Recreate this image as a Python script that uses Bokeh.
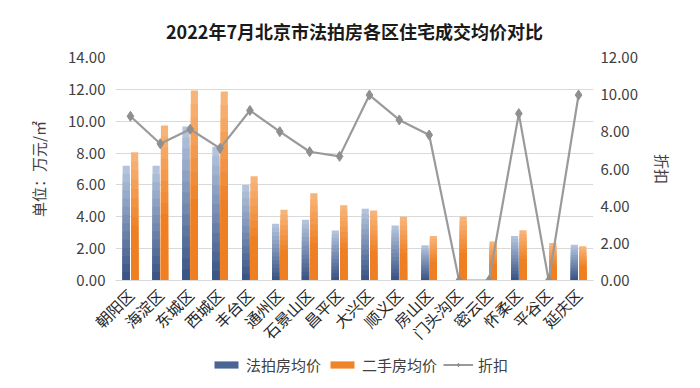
from bokeh.plotting import figure
from bokeh.layouts import column
from bokeh.models import (ColumnDataSource, FactorRange, Range1d, LinearAxis,
                          NumeralTickFormatter, Legend, LegendItem, SingleIntervalTicker)
from bokeh.transform import dodge
from bokeh.embed import file_html
from bokeh.resources import INLINE
import math

districts = ["朝阳区", "海淀区", "东城区", "西城区", "丰台区", "通州区", "石景山区", "昌平区",
             "大兴区", "顺义区", "房山区", "门头沟区", "密云区", "怀柔区", "平谷区", "延庆区"]
auction_price = [7.2, 7.2, 9.67, 8.4, 6.0, 3.56, 3.81, 3.14, 4.5, 3.45, 2.22, 0.0, 0.0, 2.8, 0.0, 2.25]
resale_price = [8.05, 9.73, 11.93, 11.86, 6.55, 4.44, 5.48, 4.73, 4.4, 4.0, 2.8, 4.02, 2.45, 3.15, 2.35, 2.15]
discount = [8.84, 7.36, 8.14, 7.11, 9.15, 8.01, 6.93, 6.68, 9.98, 8.64, 7.83, 0.0, 0.0, 8.98, 0.0, 9.98]
series_names = ["法拍房均价", "二手房均价", "折扣"]

FONT = "Noto Sans CJK SC"
TXT = "#404040"
N = 14
BLUE_TOP, BLUE_BOT, BLUE_MID = "#b3c3dc", "#3a5586", "#4a6593"
ORANGE_TOP, ORANGE_BOT = "#f7b478", "#ee7f22"
LINE_C, MARK_C = "#9a9a9a", "#8f8f8f"


def mix(c1, c2, t):
    a = [int(c1[i:i + 2], 16) for i in (1, 3, 5)]
    b = [int(c2[i:i + 2], 16) for i in (1, 3, 5)]
    return "#" + "".join("%02x" % round(a[k] + (b[k] - a[k]) * t) for k in range(3))


p = figure(frame_width=478, frame_height=223, x_range=FactorRange(*districts, range_padding=0),
           y_range=Range1d(0, 14), output_backend="svg", toolbar_location=None,
           title="2022年7月北京市法拍房各区住宅成交均价对比",
           min_border_left=115, min_border_right=91, min_border_top=57, min_border_bottom=0)
p.extra_y_ranges = {"disc": Range1d(0, 12)}

p.title.align = "center"
p.title.text_font = FONT
p.title.text_font_size = "18px"
p.title.text_font_style = "bold"
p.title.text_color = "#1a1a1a"
p.title.standoff = 27

p.outline_line_color = None
p.xgrid.grid_line_color = None
p.ygrid.grid_line_color = "#d9d9d9"
p.ygrid.grid_line_width = 1.2
p.yaxis.ticker = SingleIntervalTicker(interval=2)

# gradient bars: layered from full height (light) to short (dark)
for j in range(N):
    f = (N - j) / N
    t = j / (N - 1)
    s = ColumnDataSource(dict(d=districts,
                              a=[v * f for v in auction_price],
                              r=[v * f for v in resale_price]))
    p.vbar(x=dodge("d", -0.14, range=p.x_range), top="a", width=0.24, source=s,
           fill_color=mix(BLUE_TOP, BLUE_BOT, t), line_color=None)
    p.vbar(x=dodge("d", 0.14, range=p.x_range), top="r", width=0.24, source=s,
           fill_color=mix(ORANGE_TOP, ORANGE_BOT, min(1.0, t * 1.6)), line_color=None)

src = ColumnDataSource(dict(d=districts, a=auction_price, r=resale_price, k=discount))
p.line(x="d", y="k", source=src, y_range_name="disc", line_color=LINE_C, line_width=2.2)
p.scatter(x="d", y="k", source=src, y_range_name="disc", marker="diamond", size=10,
          fill_color=MARK_C, line_color=MARK_C)

yl = p.yaxis[0]
yl.formatter = NumeralTickFormatter(format="0.00")
yl.axis_label = "单位：万元/㎡"
ra = LinearAxis(y_range_name="disc", ticker=SingleIntervalTicker(interval=2),
                formatter=NumeralTickFormatter(format="0.00"), axis_label="折扣")
p.add_layout(ra, "right")

for ax in (yl, ra):
    ax.axis_line_color = None
    ax.major_tick_line_color = None
    ax.minor_tick_line_color = None
    ax.major_tick_out = 0
    ax.major_label_text_font = FONT
    ax.major_label_text_font_size = "15px"
    ax.major_label_text_color = TXT
    ax.axis_label_text_font = FONT
    ax.axis_label_text_font_size = "15px"
    ax.axis_label_text_font_style = "normal"
    ax.axis_label_text_color = TXT
yl.major_label_standoff = 6
yl.axis_label_standoff = 16
ra.major_label_standoff = 3
ra.axis_label_standoff = 11

xa = p.xaxis[0]
xa.axis_line_color = "#d9d9d9"
xa.axis_line_width = 1.2
xa.major_tick_line_color = None
xa.major_tick_out = 0
xa.major_label_orientation = math.pi / 4
xa.major_label_text_font = FONT
xa.major_label_text_font_size = "15.5px"
xa.major_label_text_color = "#262626"
xa.major_label_standoff = 11

# legend strip below the chart (its renderers sit outside the visible y range)
lf = figure(width=684, height=30, x_range=FactorRange(*districts), y_range=Range1d(100, 101),
            output_backend="svg", toolbar_location=None, x_axis_type=None, y_axis_type=None,
            min_border_left=0, min_border_right=0, min_border_top=0, min_border_bottom=0)
lf.outline_line_color = None
lf.grid.grid_line_color = None
r1 = lf.vbar(x="d", top="a", width=0.2, source=src, fill_color=BLUE_MID, line_color=None)
r2 = lf.vbar(x="d", top="r", width=0.2, source=src, fill_color="#f08429", line_color=None)
r3 = lf.line(x="d", y="k", source=src, line_color=LINE_C, line_width=2)
r4 = lf.scatter(x="d", y="k", source=src, marker="diamond", size=8,
                fill_color=MARK_C, line_color=MARK_C)
legend = Legend(items=[LegendItem(label=series_names[0], renderers=[r1]),
                       LegendItem(label=series_names[1], renderers=[r2]),
                       LegendItem(label=series_names[2], renderers=[r3, r4])],
                orientation="horizontal", location=(96, 8),
                glyph_width=30, glyph_height=9, label_standoff=5, spacing=6,
                label_text_font=FONT, label_text_font_size="15px", label_text_color=TXT,
                border_line_color=None, background_fill_alpha=0, padding=0, margin=0)
lf.add_layout(legend, "center")

open("out.html", "w").write(file_html(column(p, lf, spacing=0), INLINE))
